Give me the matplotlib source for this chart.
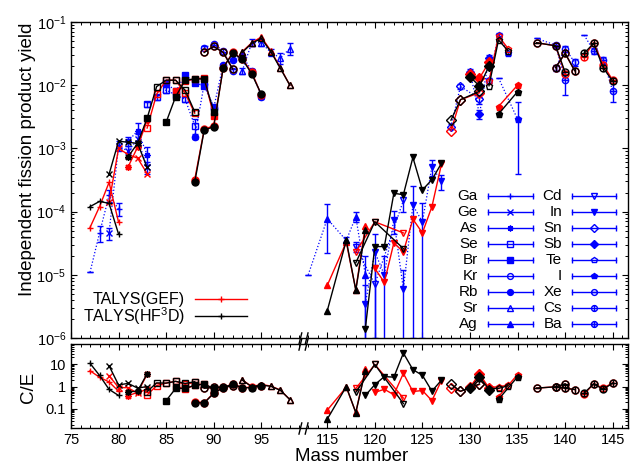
import numpy as np
import matplotlib
matplotlib.use('Agg')
import matplotlib.pyplot as plt
from matplotlib.path import Path
from matplotlib import ticker
from matplotlib.transforms import blended_transform_factory

plt.rcParams['font.family'] = ['Liberation Sans', 'DejaVu Sans']
plt.rcParams['mathtext.fontset'] = 'custom'
plt.rcParams['mathtext.rm'] = 'Liberation Sans'
plt.rcParams['mathtext.it'] = 'Liberation Sans:italic'

nan = np.nan

# ---------------- data (mass number, experiment, error, TALYS(GEF), TALYS(HF3D))
ga_A = [77, 78, 79, 80]
ga_exp = [1.1e-5, 4.6e-5, 1.8e-4, 1.1e-4]
ga_err = [0.0, 1.3e-5, 4e-5, 2.5e-5]
ga_gef = [5.6e-5, 1.2e-4, 2.9e-4, 6.8e-5]
ga_hf = [1.2e-4, 1.45e-4, 1.35e-4, 4.4e-5]

ge_A = [79, 80, 81, 82, 83]
ge_exp = [4.6e-5, 1.1e-3, 9e-4, 1.4e-3, 5e-4]
ge_err = [1e-5, 2e-4, 2e-4, 3e-4, 1e-4]
ge_gef = [1.4e-4, 1.0e-3, 8e-4, 7e-4, 4e-4]
ge_hf = [3.9e-4, 1.3e-3, 1.25e-3, 1.2e-3, 5e-4]

as_A = [81, 82, 83]
as_exp = [1.3e-3, 1.9e-3, 8e-4]
as_err = [2e-4, 6e-4, 2.5e-4]
as_gef = [5.1e-4, 1.05e-3, 2.8e-3]
as_hf = [7.4e-4, 1.2e-3, 3e-3]

se_A = [83, 84, 85, 86, 87, 88]
se_exp = [5e-3, 6.5e-3, 8.4e-3, 7e-3, 6e-3, 2.3e-3]
se_err = [5e-4, 6e-4, 1e-3, 8e-4, 6e-4, 6e-4]
se_gef = [2.1e-3, 7.2e-3, 1.2e-2, 1.2e-2, 7.5e-3, 3.6e-3]
se_hf = [3e-3, 9.5e-3, 1.2e-2, 1.2e-2, 8.3e-3, 3.8e-3]

br_A = [85, 86, 87, 88, 89, 90]
br_exp = [1.1e-2, 8e-3, 1.45e-2, 1.1e-2, 9.7e-3, 4.6e-3]
br_err = [6e-4, 5e-4, 8e-4, 6e-4, 5e-4, 3e-4]
br_gef = [nan, 8e-3, 1.15e-2, 1.26e-2, 1.3e-2, 3.3e-3]
br_hf = [2.6e-3, 6.6e-3, 1.2e-2, 1.26e-2, 1.25e-2, 3.8e-3]

kr_A = [89, 90, 91, 92]
kr_exp = [3.9e-2, 4.5e-2, 3.5e-2, 1.7e-2]
kr_err = [2e-3, 2e-3, 2e-3, 1e-3]
kr_gef = [3.4e-2, 4.1e-2, 3.3e-2, 1.8e-2]
kr_hf = [3.3e-2, 4.1e-2, 3.3e-2, 1.8e-2]

rb_A = [88, 89, 90, 91, 92, 93, 94, 95]
rb_exp = [1.5e-3, 1.05e-2, 4.4e-3, 2.1e-2, 2.5e-2, 2.9e-2, 1.7e-2, 6.5e-3]
rb_err = [1e-4, 6e-4, 3e-4, 1e-3, 1e-3, 1.5e-3, 1e-3, 4e-4]
rb_gef = [3.2e-4, 2e-3, 2.3e-3, 1.9e-2, 3.3e-2, 2.6e-2, 1.6e-2, 7e-3]
rb_hf = [2.9e-4, 1.95e-3, 2.2e-3, 1.9e-2, 3.2e-2, 2.6e-2, 1.5e-2, 7.2e-3]

sr_A = [93, 94, 95, 96, 97, 98]
sr_exp = [1.7e-2, 4.7e-2, 4.7e-2, 3.3e-2, 2.7e-2, 3.8e-2]
sr_err = [2e-3, 6e-3, 6e-3, 4e-3, 5e-3, 8e-3]
sr_gef = [3.4e-2, 4.7e-2, 5.8e-2, 3.5e-2, 1.9e-2, 1e-2]
sr_hf = [3.3e-2, 4.6e-2, 5.5e-2, 3.4e-2, 1.85e-2, 1e-2]

ag_A = [113, 115, 117, 118, 119]
ag_exp = [1e-5, 7.7e-5, 3.5e-5, 8.3e-5, 1e-5]
ag_err = [0.0, 5.5e-5, 4e-6, 1.5e-5, 9.9e-6]
ag_gef = [nan, 6.8e-6, 3.3e-5, 5.8e-6, 5.9e-5]
ag_hf = [nan, 2.7e-6, 3.5e-5, 5.7e-6, 5.1e-5]

cd_A = [118, 120, 123]
cd_exp = [2.8e-5, 7.1e-6, 1.5e-4]
cd_err = [5e-6, 7e-6, 5e-5]
cd_gef = [2.3e-5, 6.9e-5, 4.6e-5]
cd_hf = [1.55e-5, 6.9e-5, 2.6e-5]

in_A = [119, 120, 121, 122, 123, 124, 125, 126, 127]
in_exp = [3.5e-6, 2.3e-5, 1e-5, 7.4e-5, 5.9e-6, 1.26e-4, 6.9e-5, 5.1e-4, 3e-4]
in_err = [3.4e-6, 2.2e-5, 9.9e-6, 3e-5, 5.8e-6, 1.25e-4, 6.8e-5, 1.4e-4, 8e-5]
in_gef = [nan, 1.26e-5, 7.6e-6, 3.2e-5, 2.3e-5, 7.6e-5, 4.6e-5, 1.2e-4, 5.6e-4]
in_hf = [1.4e-6, 2.8e-5, 2.8e-5, 1.95e-4, 1.85e-4, 7.2e-4, 2.2e-4, 3.2e-4, 5.8e-4]

sn_A = [128, 129, 131]
sn_exp = [2.2e-3, 9.6e-3, 6.1e-3]
sn_err = [2e-4, 1e-3, 1e-3]
sn_gef = [1.9e-3, 5.9e-3, 7.6e-3]
sn_hf = [2.8e-3, 5.9e-3, 8e-3]

sb_A = [130, 131, 132]
sb_exp = [1.6e-2, 3.5e-3, 2.7e-2]
sb_err = [2e-3, 6e-4, 3e-3]
sb_gef = [1.5e-2, 1.3e-2, 2.3e-2]
sb_hf = [1.36e-2, 9.7e-3, 2.0e-2]

te_A = [132, 133, 134]
te_exp = [1.2e-2, 6.3e-2, 3.2e-2]
te_err = [1e-3, 4e-3, 2e-3]
te_gef = [1.15e-2, 6.0e-2, 3.8e-2]
te_hf = [9.8e-3, 5.2e-2, 3.5e-2]

i_A = [133, 135]
i_exp = [1.3e-2, 2.9e-3]
i_err = [0.0, 2.5e-3]
i_gef = [4.6e-3, 1.0e-2]
i_hf = [3.5e-3, 7.9e-3]

xe_A = [137, 139, 140]
xe_exp = [5.5e-2, 4.3e-2, 1.2e-2]
xe_err = [0.0, 3e-3, 5e-3]
xe_gef = [4.7e-2, 4.2e-2, 1.5e-2]
xe_hf = [4.7e-2, 4.2e-2, 1.6e-2]

cs_A = [139, 140, 141]
cs_exp = [1.9e-2, 3.8e-2, 2.3e-2]
cs_err = [2e-3, 4e-3, 3e-3]
cs_gef = [1.9e-2, 3.2e-2, 1.7e-2]
cs_hf = [1.9e-2, 3.2e-2, 1.7e-2]

ba_A = [142, 143, 144, 145]
ba_exp = [6.2e-2, 3.5e-2, 2.5e-2, 8.1e-3]
ba_err = [0.0, 4e-3, 3e-3, 2.7e-3]
ba_gef = [2.8e-2, 4.7e-2, 2.1e-2, 1.2e-2]
ba_hf = [3.2e-2, 4.6e-2, 1.9e-2, 1.15e-2]

# experimental points drawn as line ends only (no symbol visible in the figure)
exp_nomark = {'Ga': [0], 'Ag': [0], 'I': [0], 'Xe': [0], 'Ba': [0]}

# ---------------- markers (gnuplot-like point types)
circ = Path.unit_circle()
hbar = Path([[-1, 0], [1, 0]], [Path.MOVETO, Path.LINETO])
vbar = Path([[0, -1], [0, 1]], [Path.MOVETO, Path.LINETO])
m_xe = Path.make_compound_path(circ, hbar)
m_cs = Path.make_compound_path(circ, vbar)
m_ba = Path.make_compound_path(circ, hbar, vbar)
m_ast = (8, 2, 0)

elements = [
    ('Ga', ga_A, ga_exp, ga_err, ga_gef, ga_hf, '+', False),
    ('Ge', ge_A, ge_exp, ge_err, ge_gef, ge_hf, 'x', False),
    ('As', as_A, as_exp, as_err, as_gef, as_hf, m_ast, False),
    ('Se', se_A, se_exp, se_err, se_gef, se_hf, 's', False),
    ('Br', br_A, br_exp, br_err, br_gef, br_hf, 's', True),
    ('Kr', kr_A, kr_exp, kr_err, kr_gef, kr_hf, 'o', False),
    ('Rb', rb_A, rb_exp, rb_err, rb_gef, rb_hf, 'o', True),
    ('Sr', sr_A, sr_exp, sr_err, sr_gef, sr_hf, '^', False),
    ('Ag', ag_A, ag_exp, ag_err, ag_gef, ag_hf, '^', True),
    ('Cd', cd_A, cd_exp, cd_err, cd_gef, cd_hf, 'v', False),
    ('In', in_A, in_exp, in_err, in_gef, in_hf, 'v', True),
    ('Sn', sn_A, sn_exp, sn_err, sn_gef, sn_hf, 'D', False),
    ('Sb', sb_A, sb_exp, sb_err, sb_gef, sb_hf, 'D', True),
    ('Te', te_A, te_exp, te_err, te_gef, te_hf, 'p', False),
    ('I', i_A, i_exp, i_err, i_gef, i_hf, 'p', True),
    ('Xe', xe_A, xe_exp, xe_err, xe_gef, xe_hf, m_xe, False),
    ('Cs', cs_A, cs_exp, cs_err, cs_gef, cs_hf, m_cs, False),
    ('Ba', ba_A, ba_exp, ba_err, ba_gef, ba_hf, m_ba, False),
]

# ---------------- broken x axis: squeeze the empty range 99.3 .. 112.5
B1, B2, EPS = 99.3, 112.5, 0.01


def fwd(a):
    a = np.asarray(a, float)
    return np.where(a <= B1, a,
                    np.where(a >= B2, a - (B2 - B1) * (1 - EPS), B1 + (a - B1) * EPS))


def inv(x):
    x = np.asarray(x, float)
    g = B1 + (B2 - B1) * EPS
    return np.where(x <= B1, x,
                    np.where(x >= g, x + (B2 - B1) * (1 - EPS), B1 + (x - B1) / EPS))


fig = plt.figure(figsize=(6.3, 4.69), dpi=100)
ax1 = fig.add_axes([0.1127, 0.2793, 0.884, 0.6738])
ax2 = fig.add_axes([0.1127, 0.0874, 0.884, 0.179])

BLUE, RED, BLACK = '#0000ff', '#ff0000', '#000000'

for name, A, ex, er, gef, hf, m, filled in elements:
    A = np.array(A, float)
    ex = np.array(ex, float)
    gef = np.array(gef, float)
    hf = np.array(hf, float)
    shown = [k for k in range(len(A)) if k not in exp_nomark.get(name, [])]
    ax1.errorbar(A, ex, yerr=er, marker=m, ms=4.5, mec=BLUE, markevery=shown,
                 mfc=BLUE if filled else 'none', color=BLUE, ls=(0, (1, 1.6)),
                 lw=0.9, elinewidth=1.0, capsize=2, capthick=1.0, mew=1.0, zorder=2)
    for vals, col, z in ((gef, RED, 3), (hf, BLACK, 4)):
        kw = dict(marker=m, ms=5, mec=col, mfc=col if filled else 'none',
                  color=col, lw=1.0, mew=1.0, zorder=z)
        ax1.plot(A, vals, **kw)
        ax2.plot(A, vals / ex, **kw)

for ax in (ax1, ax2):
    ax.set_xscale('function', functions=(fwd, inv))
    ax.set_yscale('log')
    ax.set_xlim(75, 146.6)
    ax.xaxis.set_major_locator(ticker.FixedLocator([75, 80, 85, 90, 95, 115, 120, 125, 130, 135, 140, 145]))
    ax.xaxis.set_minor_locator(ticker.FixedLocator(list(range(75, 100)) + list(range(113, 147))))
    ax.tick_params(which='both', direction='in', top=True, right=True, labelsize=10.5)
    ax.tick_params(which='major', length=4.5, width=0.8)
    ax.tick_params(which='minor', length=2.5, width=0.7)
    for s in ax.spines.values():
        s.set_linewidth(1.0)

ax1.set_ylim(1e-6, 1e-1)
ax1.tick_params(labelbottom=False)
ax2.set_ylim(0.0141, 79.4)
ax2.yaxis.set_major_locator(ticker.FixedLocator([0.1, 1, 10]))
ax2.yaxis.set_major_formatter(ticker.FixedFormatter(['0.1', '1', '10']))
ax2.xaxis.set_major_formatter(ticker.FuncFormatter(lambda v, p: '%d' % round(v)))

# break marks on the spines
brk = Path([[-3, -4], [-1, 4], [1, -4], [3, 4]],
           [Path.MOVETO, Path.LINETO, Path.MOVETO, Path.LINETO])
for ax, ys in ((ax1, [0]), (ax2, [0, 1])):
    tr = blended_transform_factory(ax.transData, ax.transAxes)
    for yy in ys:
        ax.plot([106], [yy], transform=tr, marker=brk, ms=9, mew=1.0,
                color='k', ls='none', clip_on=False, zorder=6)


def px2ax(px, py):
    return (px - 71) / 557.0, (338 - py) / 316.0


# element key (gnuplot style: label, line with caps, point)
for i, (name, A, ex, er, gef, hf, m, filled) in enumerate(elements):
    col, row = divmod(i, 9)
    py = 195.7 + 16.07 * row
    if col == 0:
        xr, x0, x1 = 478, 488, 533
    else:
        xr, x0, x1 = 562, 572, 616
    (axr, ay), (ax0, _), (ax1_, _) = px2ax(xr, py), px2ax(x0, py), px2ax(x1, py)
    ax1.text(axr, ay, name, transform=ax1.transAxes, ha='right', va='center', fontsize=11)
    ax1.plot([ax0, ax1_], [ay, ay], transform=ax1.transAxes, color=BLUE, lw=1.0)
    ax1.plot([ax0, ax1_], [ay, ay], transform=ax1.transAxes, ls='none',
             marker='|', ms=5, mew=1.0, color=BLUE)
    ax1.plot([(ax0 + ax1_) / 2], [ay], transform=ax1.transAxes, marker=m, ms=4.2,
             color=BLUE, mec=BLUE, mfc=BLUE if filled else 'none', mew=1.0, ls='none')

for label, col, py in (('TALYS(GEF)', RED, 299), ('TALYS(HF$^{3}$D)', BLACK, 316)):
    (axr, ay), (ax0, _), (ax1_, _) = px2ax(185, py), px2ax(195, py), px2ax(247, py)
    ax1.text(axr, ay, label, transform=ax1.transAxes, ha='right', va='center', fontsize=11.5)
    ax1.plot([ax0, ax1_], [ay, ay], transform=ax1.transAxes, color=col, lw=1.0)
    ax1.plot([(ax0 + ax1_) / 2], [ay], transform=ax1.transAxes, marker='+', ms=5,
             color=col, mew=1.0)

fig.text(28 / 630, 1 - 159 / 469, 'Independent fission product yield', rotation=90,
         ha='center', va='center', fontsize=13.5)
fig.text(28 / 630, 1 - 387 / 469, 'C/E', rotation=90, ha='center', va='center', fontsize=13.5)
fig.text(352 / 630, 1 - 456 / 469, 'Mass number', ha='center', va='center', fontsize=13.5)

fig.savefig('out.png', dpi=100)
